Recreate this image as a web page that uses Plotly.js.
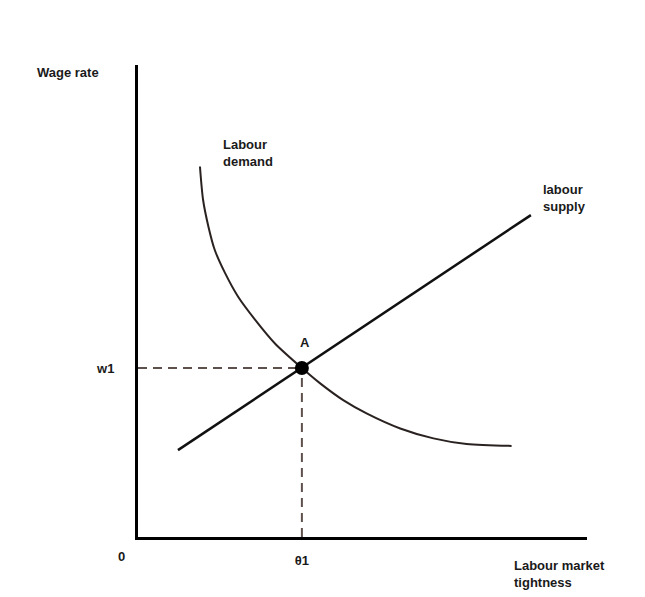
<!DOCTYPE html>
<html><head><meta charset="utf-8">
<script src="https://cdn.plot.ly/plotly-3.0.1.min.js"></script>
<style>html,body{margin:0;padding:0;background:#fff}#chart{width:645px;height:597px}</style>
</head><body><div id="chart"></div>
<script>
// Data (arbitrary units: x = labour market tightness, y = wage rate)
const supplyX = [0.89, 8.75];
const supplyY = [1.84, 6.82];
const demandX = [1.38, 1.45, 1.57, 1.71, 1.94, 2.23, 2.61, 3.05, 3.65, 4.05, 4.57, 5.09, 5.84, 6.58, 7.32, 8.32];
const demandY = [7.85, 7.14, 6.57, 6.08, 5.59, 5.09, 4.60, 4.10, 3.58, 3.26, 2.90, 2.62, 2.30, 2.09, 1.97, 1.93];
const equilibriumX = [3.65];
const equilibriumY = [3.58];
const xTickLabels = ["θ1"];
const yTickLabels = ["w1"];

// pixel helpers for label placement (plot area: x 138..587, y 65..537)
const X = px => (px - 138) / 44.9;
const Y = py => (537 - py) / 47.2;
const PX = px => (px - 138) / 449;
const PY = py => (537 - py) / 472;
const font = {family: "Liberation Sans, Arial, sans-serif", size: 13, color: "#1a1a1a", weight: "bold"};

const traces = [
  {x: [0, equilibriumX[0]], y: [equilibriumY[0], equilibriumY[0]], mode: "lines",
   line: {color: "#5e514d", width: 2, dash: "9px,6px"}, hoverinfo: "skip"},
  {x: [equilibriumX[0], equilibriumX[0]], y: [0, equilibriumY[0]], mode: "lines",
   line: {color: "#5e514d", width: 2, dash: "9px,6px"}, hoverinfo: "skip"},
  {x: demandX, y: demandY, mode: "lines", line: {color: "#2a2220", width: 2, shape: "spline", smoothing: 0.8}},
  {x: supplyX, y: supplyY, mode: "lines", line: {color: "#111", width: 2.5}},
  {x: equilibriumX, y: equilibriumY, mode: "markers", marker: {color: "#000", size: 14}}
];

const layout = {
  width: 645, height: 597,
  margin: {l: 138, r: 58, t: 65, b: 60},
  paper_bgcolor: "#fff", plot_bgcolor: "#fff",
  showlegend: false,
  xaxis: {range: [0, 10], showgrid: false, zeroline: false, showline: true, linecolor: "#000", linewidth: 3,
          tickvals: equilibriumX, ticktext: xTickLabels, ticks: "outside", ticklen: 9,
          tickcolor: "rgba(0,0,0,0)", tickfont: font, fixedrange: true},
  yaxis: {range: [0, 10], showgrid: false, zeroline: false, showline: true, linecolor: "#000", linewidth: 3,
          tickvals: equilibriumY, ticktext: yTickLabels, ticks: "outside", ticklen: 18,
          tickcolor: "rgba(0,0,0,0)", tickfont: font, fixedrange: true},
  annotations: [
    {xref: "paper", yref: "paper", x: PX(35), y: PY(73), text: "Wage rate", xanchor: "left", yanchor: "middle", showarrow: false, font: font},
    {x: X(221), y: Y(135), text: "Labour<br>demand", xanchor: "left", yanchor: "top", align: "left", showarrow: false, font: font},
    {x: X(541), y: Y(180), text: "labour<br>supply", xanchor: "left", yanchor: "top", align: "left", showarrow: false, font: font},
    {x: X(305), y: Y(342), text: "A", xanchor: "center", yanchor: "middle", showarrow: false, font: font},
    {xref: "paper", yref: "paper", x: PX(121), y: PY(556), text: "0", xanchor: "center", yanchor: "middle", showarrow: false, font: font},
    {xref: "paper", yref: "paper", x: PX(512), y: PY(556), text: "Labour market<br>tightness", xanchor: "left", yanchor: "top", align: "left", showarrow: false, font: font}
  ]
};
Plotly.newPlot("chart", traces, layout, {displayModeBar: false, staticPlot: true});
</script></body></html>
